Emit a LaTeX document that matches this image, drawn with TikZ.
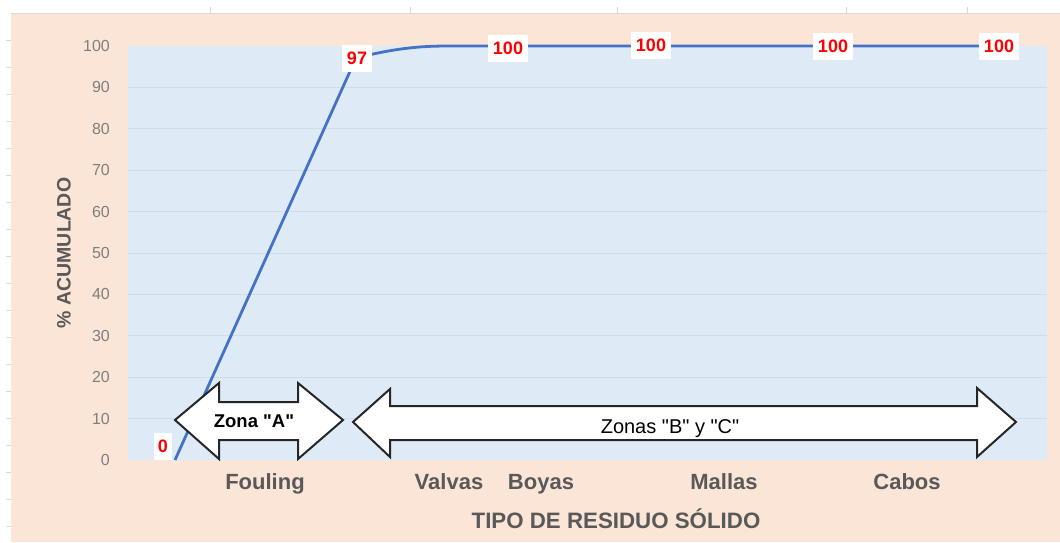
\documentclass[tikz,border=0pt]{standalone}
\usepackage{fontspec}
\setmainfont{Liberation Sans}[Ligatures=TeXOff]
\definecolor{peach}{HTML}{FBE5D6}
\definecolor{plotblue}{HTML}{DEEBF7}
\definecolor{gridc}{HTML}{D3DBE5}
\definecolor{linec}{HTML}{4472C4}
\definecolor{txtgray}{HTML}{595959}
\definecolor{tickgray}{HTML}{7F7F7F}
\definecolor{sheetline}{HTML}{D9D9D9}
\definecolor{arrowline}{HTML}{262626}
\newcommand{\dq}{\symbol{34}}
\begin{document}
\begin{tikzpicture}[x=1pt,y=-1pt,
  ylab/.style={anchor=east,text=tickgray,font=\fontsize{16}{18}\selectfont,inner sep=0pt},
  catlab/.style={anchor=base,text=txtgray,font=\bfseries\fontsize{22}{24}\selectfont,inner sep=0pt},
  dlabel/.style={fill=white,text=red,font=\bfseries\fontsize{18}{20}\selectfont,inner xsep=5pt,inner ysep=0pt,minimum height=27pt},
  zone/.style={draw=arrowline,line width=2pt,fill=white,line join=miter},
  gridl/.style={draw=gridc,line width=0.8pt},
  sheet/.style={draw=sheetline,line width=0.7pt},
  series/.style={draw=linec,line width=2.8pt,line join=round}]
\useasboundingbox (0,0) rectangle (1060,542);
\fill[white] (0,0) rectangle (1060,542);
% spreadsheet marks
\draw[sheet] (11,13.5) -- (1060,13.5);
\foreach \xx in {210,410,617,846,967} \draw[sheet] (\xx,7) -- (\xx,13.5);
\foreach \k in {0,...,18} \draw[sheet] (6,{40+27*\k}) -- (11,{40+27*\k});
% backgrounds
\fill[peach] (11,14) rectangle (1060,542);
\fill[plotblue] (128,46) rectangle (1047,460);
\foreach \v in {10,20,...,90} \draw[gridl] (128,{460-4.14*\v}) -- (1047,{460-4.14*\v});
% y tick labels
\foreach \v in {0,10,...,100} \node[ylab] (yl\v) at (110,{460-4.14*\v}) {\v};
% series
\coordinate (p0) at (175,460);
\coordinate (p1) at (356,58);
\coordinate (p2) at (450,46);
\coordinate (p6) at (999,46);
\draw[series] (p0) -- (p1) .. controls (400,47) and (425,46) .. (p2) -- (p6);
% data labels
\node[dlabel,inner xsep=4pt] (d0) at (163,446) {0};
\node[dlabel] (d1) at (357,58) {97};
\node[dlabel] (d2) at (508,48) {100};
\node[dlabel] (d3) at (651,45) {100};
\node[dlabel] (d4) at (833,46) {100};
\node[dlabel] (d5) at (999,46) {100};
% zone arrows
\draw[zone] (175,420) -- (219,383) -- (219,402) -- (298,402) -- (298,383) -- (343,420)
  -- (298,459) -- (298,440) -- (219,440) -- (219,459) -- cycle;
\node[anchor=base,inner sep=0pt,font=\bfseries\fontsize{18.5}{20}\selectfont,text=black] (zA) at (254,427) {Zona \dq A\dq};
\draw[zone] (353,422) -- (390,389) -- (390,406) -- (977,406) -- (977,388) -- (1016,422)
  -- (977,457) -- (977,440) -- (390,440) -- (390,457) -- cycle;
\node[anchor=base,inner sep=0pt,font=\fontsize{20}{22}\selectfont,text=black] (zB) at (670,433) {Zonas \dq B\dq{} y \dq C\dq};
% category labels
\node[catlab] (c1) at (265,489) {Fouling};
\node[catlab] (c2) at (449,489) {Valvas};
\node[catlab] (c3) at (541,489) {Boyas};
\node[catlab] (c4) at (724,489) {Mallas};
\node[catlab] (c5) at (907,489) {Cabos};
% axis titles
\node[anchor=base,inner sep=0pt,text=txtgray,font=\bfseries\fontsize{22.3}{24}\selectfont] (xt) at (616,528) {TIPO DE RESIDUO SÓLIDO};
\node[rotate=90,text=txtgray,font=\bfseries\fontsize{19.5}{22}\selectfont] (yt) at (64,253) {\% ACUMULADO};
\end{tikzpicture}
\end{document}
